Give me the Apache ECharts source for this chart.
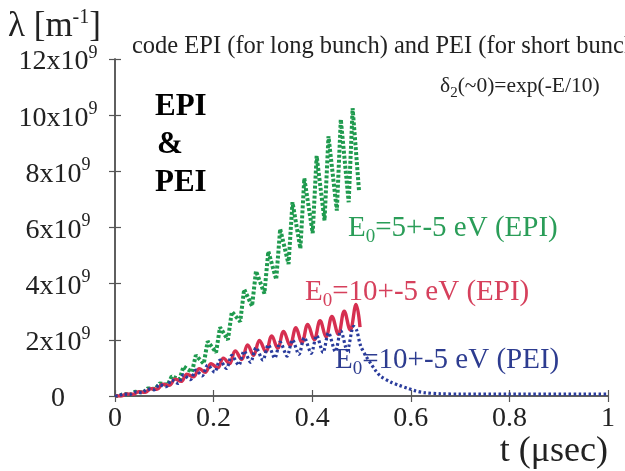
<!DOCTYPE html>
<html>
<head>
<meta charset="utf-8">
<script src="https://cdn.jsdelivr.net/npm/echarts@6/dist/echarts.min.js"></script>
<style>
html,body{margin:0;padding:0;background:#fff;}
#chart{width:625px;height:471px;}
</style>
</head>
<body>
<div id="chart"></div>
<script>
// Values in units of 1e9 m^-1, time in microseconds
const xTickLabels = ['0', '0.2', '0.4', '0.6', '0.8', '1'];
const yTickLabels = ['0', '2x10^9', '4x10^9', '6x10^9', '8x10^9', '10x10^9', '12x10^9'];

const seriesNames = ['E0=5+-5 eV (EPI)', 'E0=10+-5 eV (EPI)', 'E0=10+-5 eV (PEI)'];

const greenEPI5 = [
  [0,0],
  [0.009,0.0],[0.017,0.07],
  [0.033,0.06],[0.041,0.15],
  [0.058,0.13],[0.066,0.27],
  [0.082,0.25],[0.090,0.45],
  [0.107,0.40],[0.115,0.70],
  [0.131,0.60],[0.139,1.05],
  [0.156,0.85],[0.164,1.45],
  [0.180,1.15],[0.188,1.95],
  [0.205,1.55],[0.213,2.45],
  [0.229,2.0],[0.237,3.0],
  [0.254,2.65],[0.262,3.8],
  [0.278,3.2],[0.286,4.45],
  [0.303,3.65],[0.311,5.15],
  [0.327,4.15],[0.335,5.95],
  [0.352,4.7],[0.360,6.9],
  [0.376,5.25],[0.384,7.75],
  [0.401,5.8],[0.409,8.55],
  [0.425,6.25],[0.433,9.25],
  [0.450,6.6],[0.458,9.85],
  [0.474,6.9],[0.482,10.25],
  [0.495,7.3]
];

const redEPI10 = [
  [0,0],
  [0.012,0.0],[0.024,0.07],
  [0.036,0.06],[0.048,0.15],
  [0.061,0.13],[0.073,0.26],
  [0.085,0.24],[0.097,0.42],
  [0.110,0.38],[0.122,0.60],
  [0.134,0.52],[0.146,0.78],
  [0.159,0.68],[0.171,0.97],
  [0.183,0.84],[0.195,1.15],
  [0.208,1.0],[0.220,1.35],
  [0.232,1.15],[0.244,1.6],
  [0.257,1.3],[0.269,1.82],
  [0.281,1.45],[0.293,1.98],
  [0.306,1.58],[0.318,2.14],
  [0.330,1.7],[0.342,2.3],
  [0.355,1.8],[0.367,2.43],
  [0.379,1.9],[0.391,2.55],
  [0.404,2.0],[0.416,2.68],
  [0.428,2.1],[0.440,2.83],
  [0.453,2.2],[0.465,3.02],
  [0.477,2.35],[0.489,3.26],
  [0.497,2.45]
];

const bluePEI10 = [
  [0,0],
  [0.006,0.0],[0.017,0.07],
  [0.030,0.05],[0.041,0.14],
  [0.055,0.12],[0.066,0.25],
  [0.079,0.22],[0.090,0.40],
  [0.104,0.33],[0.115,0.57],
  [0.128,0.45],[0.139,0.75],
  [0.153,0.58],[0.164,0.92],
  [0.177,0.72],[0.188,1.10],
  [0.202,0.85],[0.213,1.28],
  [0.226,0.98],[0.237,1.45],
  [0.251,1.10],[0.262,1.60],
  [0.275,1.20],[0.286,1.72],
  [0.300,1.28],[0.311,1.82],
  [0.324,1.35],[0.335,1.92],
  [0.349,1.42],[0.360,2.0],
  [0.373,1.48],[0.384,2.08],
  [0.398,1.52],[0.409,2.15],
  [0.422,1.55],[0.433,2.25],
  [0.447,1.58],[0.458,2.32],
  [0.471,1.62],[0.484,2.48],
  [0.490,2.35],[0.498,1.8],[0.508,1.45],[0.518,1.18],[0.528,0.92],
  [0.539,0.70],[0.559,0.5],[0.576,0.38],[0.593,0.28],[0.61,0.18],
  [0.627,0.12],[0.66,0.08],[0.7,0.07],[0.8,0.07],[1.0,0.07]
];

const SERIF = "'Liberation Serif', 'DejaVu Serif', serif";
const AX = '#555';

const chart = echarts.init(document.getElementById('chart'), null, {renderer: 'canvas'});

function yLabel(v) {
  const s = yTickLabels[Math.round(v / 2)];
  if (s === undefined) return '';
  const parts = s.split('^');
  if (parts.length === 1) return '{a|' + parts[0] + '}';
  return '{a|' + parts[0] + '}{p|' + parts[1] + '}';
}

function subLabel(name) {
  return '{a|E}{s|0}{a|' + name.slice(2) + '}';
}

function labelStyle(color) {
  return {
    a: {fontFamily: SERIF, fontSize: 29, fill: color},
    s: {fontFamily: SERIF, fontSize: 19, fill: color, padding: [19, 0, 0, 0]}
  };
}

const option = {
  backgroundColor: '#fff',
  animation: false,
  grid: {left: 115, right: 17, top: 59, bottom: 75, containLabel: false},
  xAxis: [
    {
      type: 'value', min: 0, max: 1, interval: 0.2, position: 'bottom',
      axisLine: {show: true, lineStyle: {color: AX, width: 1.5}},
      axisTick: {show: true, inside: true, length: 6, lineStyle: {color: AX, width: 1.2}},
      splitLine: {show: false},
      axisLabel: {
        margin: 9, color: '#222', fontFamily: SERIF, fontSize: 28,
        formatter: (v) => xTickLabels[Math.round(v / 0.2)]
      },
      name: 't (\u03BCsec)', nameLocation: 'end', nameGap: 0,
      nameTextStyle: {fontFamily: SERIF, fontSize: 36, color: '#222', align: 'right', verticalAlign: 'top', padding: [38, 0, 0, 0]}
    },
    {
      type: 'value', min: 0, max: 1, interval: 0.2, position: 'top',
      axisLine: {show: true, lineStyle: {color: AX, width: 1.5}},
      axisTick: {show: true, inside: true, length: 6, lineStyle: {color: AX, width: 1.2}},
      splitLine: {show: false}, axisLabel: {show: false}
    }
  ],
  yAxis: [
    {
      type: 'value', min: 0, max: 12, interval: 2, position: 'left',
      axisLine: {show: true, lineStyle: {color: AX, width: 1.5}},
      axisTick: {show: true, inside: true, length: 6, lineStyle: {color: AX, width: 1.2}},
      splitLine: {show: false},
      axisLabel: {
        margin: 57, align: 'center', color: '#222', fontFamily: SERIF,
        formatter: yLabel,
        rich: {
          a: {fontFamily: SERIF, fontSize: 28, color: '#222', padding: [6, 0, 0, 0]},
          p: {fontFamily: SERIF, fontSize: 18, color: '#222', padding: [0, 0, 12, 0]}
        }
      }
    },
    {
      type: 'value', min: 0, max: 12, interval: 2, position: 'right',
      axisLine: {show: true, lineStyle: {color: AX, width: 1.5}},
      axisTick: {show: true, inside: true, length: 6, lineStyle: {color: AX, width: 1.2}},
      splitLine: {show: false}, axisLabel: {show: false}
    }
  ],
  series: [
    {
      name: seriesNames[0], type: 'line', data: greenEPI5, showSymbol: false, symbol: 'none',
      lineStyle: {color: '#1f9a4e', width: 4, type: [3, 2], cap: 'butt'}, z: 2
    },
    {
      name: seriesNames[1], type: 'line', data: redEPI10, showSymbol: false, symbol: 'none', smooth: 0.4,
      lineStyle: {color: '#d62f50', width: 3.4, type: 'solid'}, z: 3
    },
    {
      name: seriesNames[2], type: 'line', data: bluePEI10, showSymbol: false, symbol: 'none', smooth: 0.3,
      lineStyle: {color: '#2a3c9c', width: 3.2, type: [2.5, 2.5], cap: 'butt'}, z: 4
    }
  ],
  graphic: [
    {
      type: 'text', x: 8, y: 24,
      style: {
        text: '{a|\u03BB [m}{p|-1}{a|]}',
        verticalAlign: 'middle',
        rich: {
          a: {fontFamily: SERIF, fontSize: 35, fill: '#222', padding: [6, 0, 0, 0]},
          p: {fontFamily: SERIF, fontSize: 20, fill: '#222', padding: [0, 0, 12, 0]}
        }
      }
    },
    {
      type: 'text', x: 132, y: 47,
      style: {text: 'code EPI (for long bunch) and PEI (for short bunch)', font: '24.5px ' + SERIF, fill: '#222', verticalAlign: 'middle'}
    },
    {
      type: 'text', x: 440, y: 86,
      style: {
        text: '{a|\u03B4}{s|2}{a|(~0)=exp(-E/10)}',
        verticalAlign: 'middle',
        rich: {
          a: {fontFamily: SERIF, fontSize: 21.5, fill: '#222'},
          s: {fontFamily: SERIF, fontSize: 15, fill: '#222', padding: [14, 0, 0, 0]}
        }
      }
    },
    {
      type: 'text', x: 155, y: 107,
      style: {text: 'EPI', font: 'bold 31px ' + SERIF, fill: '#000', verticalAlign: 'middle'}
    },
    {
      type: 'text', x: 157, y: 145,
      style: {text: '&', font: 'bold 31px ' + SERIF, fill: '#000', verticalAlign: 'middle'}
    },
    {
      type: 'text', x: 155, y: 183,
      style: {text: 'PEI', font: 'bold 31px ' + SERIF, fill: '#000', verticalAlign: 'middle'}
    },
    {
      type: 'text', x: 348, y: 228,
      style: {text: subLabel(seriesNames[0]), verticalAlign: 'middle', rich: labelStyle('#2a9d58')}
    },
    {
      type: 'text', x: 305, y: 292,
      style: {text: subLabel(seriesNames[1]), verticalAlign: 'middle', rich: labelStyle('#d6405c')}
    },
    {
      type: 'text', x: 335, y: 360,
      style: {text: subLabel(seriesNames[2]), verticalAlign: 'middle', rich: labelStyle('#2d3c90')}
    }
  ]
};

chart.setOption(option);
</script>
</body>
</html>
